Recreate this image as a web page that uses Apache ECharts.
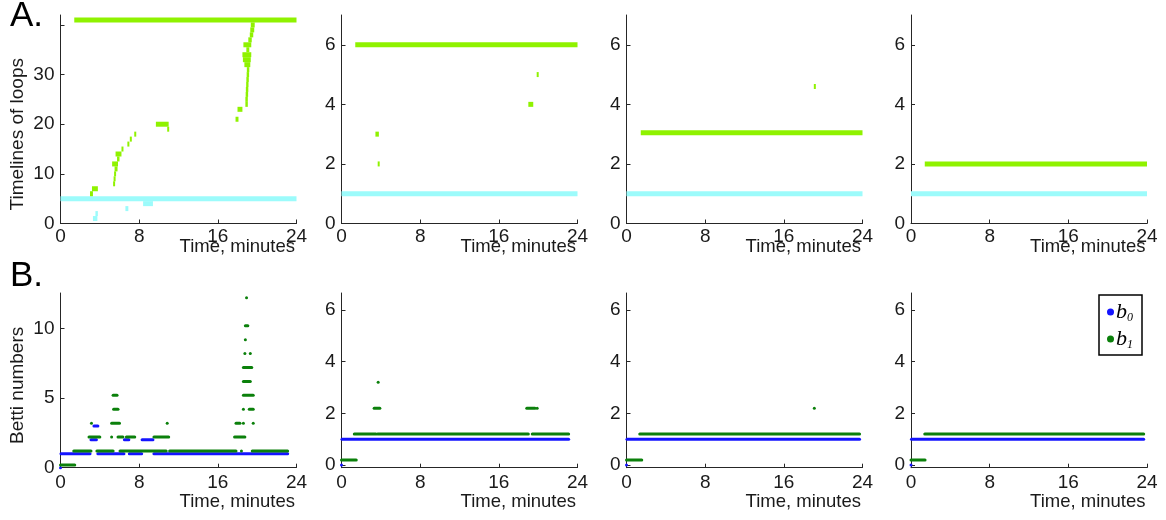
<!DOCTYPE html>
<html>
<head>
<meta charset="utf-8">
<script src="https://cdn.jsdelivr.net/npm/echarts@6/dist/echarts.min.js"></script>
<style>
  html, body { margin: 0; padding: 0; background: #fff; }
  #chart { width: 1166px; height: 520px; }
</style>
</head>
<body>
<div id="chart"></div>
<script>
// Time axis (minutes) shared by every panel
const timeTicks = [0, 8, 16, 24];

// Loop timelines: each entry is [start minute, end minute, loop index]
const loopsGreen1 = [
  [1.4, 24, 41],
  [19.35, 19.75, 40], [19.3, 19.7, 39], [19.25, 19.6, 38], [19.1, 19.45, 37],
  [18.6, 19.4, 36], [18.9, 19.2, 35], [18.5, 19.4, 34], [18.55, 19.35, 33], [18.7, 19.3, 32],
  [18.95, 19.2, 31], [18.93, 19.18, 30], [18.9, 19.15, 29], [18.88, 19.12, 28],
  [18.85, 19.1, 27], [18.83, 19.08, 26], [18.8, 19.05, 25], [18.8, 19.05, 24],
  [18.0, 18.5, 23], [17.8, 18.1, 21],
  [9.7, 11.0, 20], [10.85, 10.95, 19],
  [7.5, 7.7, 18], [7.05, 7.25, 17], [6.8, 6.95, 16], [6.2, 6.35, 15],
  [5.6, 6.2, 14], [5.75, 6.0, 13], [5.25, 5.85, 12], [5.5, 5.8, 11],
  [5.45, 5.6, 10], [5.4, 5.55, 9], [5.35, 5.5, 8],
  [3.2, 3.8, 7], [3.0, 3.3, 6]
];
const loopsCyan1 = [
  [0, 24, 5], [8.4, 9.4, 4], [6.6, 6.9, 3], [3.55, 3.8, 2], [3.3, 3.75, 1]
];
const loopsGreen2 = [
  [1.4, 24, 6], [19.85, 20.05, 5], [19.0, 19.5, 4], [3.45, 3.8, 3], [3.68, 3.85, 2]
];
const loopsCyan2 = [[0, 24, 1]];
const loopsGreen3 = [[1.45, 24, 3.05], [19.05, 19.25, 4.6]];
const loopsCyan3 = [[0, 24, 1]];
const loopsGreen4 = [[1.4, 24, 2]];
const loopsCyan4 = [[0, 24, 1]];

// Betti numbers over time: [start minute, end minute, value]
const betti0_1 = [
  [0, 0, 0], [0.05, 3.0, 1], [3.8, 6.45, 1], [7.0, 8.25, 1], [9.5, 23.1, 1],
  [3.1, 3.65, 2], [6.5, 6.95, 2], [8.3, 9.4, 2], [3.4, 3.8, 3]
];
const betti1_1 = [
  [0, 1.45, 0],
  [1.35, 3.1, 1], [3.7, 5.35, 1], [6.05, 10.75, 1], [11.1, 17.85, 1], [18.4, 18.4, 1], [19.5, 23.1, 1],
  [2.9, 4.0, 2], [5.2, 5.2, 2], [5.85, 6.35, 2], [6.7, 7.55, 2], [9.5, 11.0, 2], [17.7, 18.75, 2],
  [3.15, 3.15, 3], [5.2, 6.0, 3], [10.85, 10.85, 3], [17.85, 18.25, 3], [18.6, 18.6, 3], [19.6, 19.6, 3],
  [5.4, 5.85, 4], [18.6, 18.6, 4], [19.2, 19.6, 4],
  [5.35, 5.75, 5], [18.6, 19.6, 5],
  [18.6, 19.3, 6],
  [18.6, 19.45, 7],
  [18.75, 18.75, 8], [19.3, 19.3, 8],
  [18.8, 18.8, 9],
  [18.8, 19.05, 10],
  [18.92, 18.92, 12]
];
const betti0_2 = [[0, 0, 0], [0.05, 23.1, 1]];
const betti1_2 = [
  [0, 1.5, 0], [1.3, 3.5, 1], [3.67, 19.0, 1], [19.4, 23.1, 1],
  [3.32, 3.9, 2], [18.84, 19.68, 2], [19.9, 19.9, 2], [3.73, 3.73, 3]
];
const betti0_3 = [[0, 0, 0], [0.05, 23.7, 1]];
const betti1_3 = [[0, 1.55, 0], [1.35, 23.7, 1], [19.1, 19.1, 2]];
const betti0_4 = [[0, 0, 0], [0.05, 23.66, 1]];
const betti1_4 = [[0, 1.43, 0], [1.4, 23.66, 1]];

// Y ranges and labelled ticks per panel
const loopAxisMax = [42, 7, 7, 7];
const loopTicks1 = [0, 10, 20, 30];
const loopTickMarks1 = [0, 10, 20, 30, 40];
const loopTicksOther = [0, 2, 4, 6];
const bettiAxisMin = [0, -0.1, -0.1, -0.1];
const bettiAxisMax = [12.55, 6.65, 6.65, 6.65];
const bettiTicks1 = [0, 5, 10];
const bettiTicksOther = [0, 2, 4, 6];

const GREEN_LOOP = '#8ff200';
const CYAN_LOOP = '#9cfbfb';
const BLUE_B0 = '#1414ff';
const GREEN_B1 = '#0b800b';
const FONT = '"Liberation Sans", Arial, sans-serif';
const INK = '#1a1a1a';

const colLeft = [60.5, 341.5, 626.5, 911];
const colWidth = 236;
const rowTop = [15, 293];
const rowHeight = [208.5, 174.7];

// Flat bar from start to end at a given level
function barItem(thick) {
  return function (params, api) {
    const lv = api.value(2);
    const a = api.coord([api.value(0), lv]);
    const b = api.coord([api.value(1), lv]);
    return {
      type: 'rect',
      shape: { x: a[0], y: a[1] - thick / 2, width: Math.max(b[0] - a[0], 2), height: thick },
      style: { fill: api.visual('color') }
    };
  };
}

// Run of dense dots: a rounded stroke, a single dot when start equals end
function dotRunItem(thick, lift) {
  return function (params, api) {
    const lv = api.value(2) + lift;
    const a = api.coord([api.value(0), lv]);
    const b = api.coord([api.value(1), lv]);
    return {
      type: 'rect',
      shape: { x: a[0] - thick / 2, y: a[1] - thick / 2, width: b[0] - a[0] + thick, height: thick, r: thick / 2 },
      style: { fill: api.visual('color') }
    };
  };
}

const grids = [], xAxes = [], yAxes = [], series = [];
const loopGreen = [loopsGreen1, loopsGreen2, loopsGreen3, loopsGreen4];
const loopCyan = [loopsCyan1, loopsCyan2, loopsCyan3, loopsCyan4];
const b0 = [betti0_1, betti0_2, betti0_3, betti0_4];
const b1 = [betti1_1, betti1_2, betti1_3, betti1_4];

function makeX(gi, row) {
  return {
    type: 'value', gridIndex: gi, min: 0, max: 24, interval: 8,
    name: 'Time, minutes', nameLocation: 'end', nameGap: -1.5, nameMoveOverlap: false,
    nameTextStyle: {
      fontFamily: FONT, fontSize: 18.5, color: INK, align: 'right', verticalAlign: 'top',
      padding: [row === 0 ? 14 : 25, 0, 0, 0]
    },
    axisLine: { show: true, onZero: false, lineStyle: { color: '#262626', width: 1 } },
    axisTick: { show: true, inside: true, length: 4, customValues: timeTicks, lineStyle: { color: '#262626' } },
    axisLabel: { customValues: timeTicks, fontFamily: FONT, fontSize: 19, color: INK, margin: row === 0 ? 4 : 6 },
    splitLine: { show: false }
  };
}

function makeY(gi, min, max, labels, marks, name, shift) {
  const ax = {
    type: 'value', gridIndex: gi, min: min, max: max,
    axisLine: { show: true, onZero: false, lineStyle: { color: '#262626', width: 1 } },
    axisTick: { show: true, inside: true, length: 4, customValues: marks, lineStyle: { color: '#262626' } },
    axisLabel: { customValues: labels, fontFamily: FONT, fontSize: 19, color: INK, margin: 6 },
    splitLine: { show: false }
  };
  if (name) {
    ax.name = name;
    ax.nameLocation = 'middle';
    ax.nameGap = 33;
    ax.nameMoveOverlap = false;
    ax.nameTextStyle = { fontFamily: FONT, fontSize: 19, color: INK, padding: [0, shift, 0, 0] };
  }
  return ax;
}

for (let c = 0; c < 4; c++) {
  // Row A: loop timelines
  let gi = grids.length;
  grids.push({ left: colLeft[c], top: rowTop[0], width: colWidth, height: rowHeight[0], outerBoundsMode: 'none', containLabel: false });
  xAxes.push(makeX(gi, 0));
  yAxes.push(makeY(gi, 0, loopAxisMax[c],
    c === 0 ? loopTicks1 : loopTicksOther,
    c === 0 ? loopTickMarks1 : loopTicksOther,
    c === 0 ? 'Timelines of loops' : null, 30));
  series.push({
    type: 'custom', name: 'loops-cyan', xAxisIndex: gi, yAxisIndex: gi,
    renderItem: barItem(5), itemStyle: { color: CYAN_LOOP },
    encode: { x: [0, 1], y: 2 }, data: loopCyan[c], silent: true
  });
  series.push({
    type: 'custom', name: 'loops-green', xAxisIndex: gi, yAxisIndex: gi,
    renderItem: barItem(5), itemStyle: { color: GREEN_LOOP },
    encode: { x: [0, 1], y: 2 }, data: loopGreen[c], silent: true
  });

  // Row B: Betti numbers
  gi = grids.length;
  grids.push({ left: colLeft[c], top: rowTop[1], width: colWidth, height: rowHeight[1], outerBoundsMode: 'none', containLabel: false });
  xAxes.push(makeX(gi, 1));
  const bt = c === 0 ? bettiTicks1 : bettiTicksOther;
  yAxes.push(makeY(gi, bettiAxisMin[c], bettiAxisMax[c], bt, bt, c === 0 ? 'Betti numbers' : null, 10));
  series.push({
    type: 'custom', name: 'b0', xAxisIndex: gi, yAxisIndex: gi,
    renderItem: dotRunItem(3, 0), itemStyle: { color: BLUE_B0 },
    encode: { x: [0, 1], y: 2 }, data: b0[c]
  });
  series.push({
    type: 'custom', name: 'b1', xAxisIndex: gi, yAxisIndex: gi,
    renderItem: dotRunItem(3, 0.2), itemStyle: { color: GREEN_B1 },
    encode: { x: [0, 1], y: 2 }, data: b1[c]
  });
}

const chart = echarts.init(document.getElementById('chart'), null, { renderer: 'canvas' });
chart.setOption({
  animation: false,
  backgroundColor: '#fff',
  grid: grids,
  xAxis: xAxes,
  yAxis: yAxes,
  series: series,
  legend: {
    data: ['b0', 'b1'],
    orient: 'vertical', left: 1099, top: 295,
    padding: [6, 9, 4, 8], itemGap: 4,
    icon: 'circle', itemWidth: 7, itemHeight: 7,
    borderColor: '#000', borderWidth: 1.5, backgroundColor: '#fff',
    selectedMode: false,
    formatter: function (n) { return '{b|b}{s|' + n.slice(1) + '}'; },
    textStyle: {
      padding: [0, 0, 0, -3],
      rich: {
        b: { fontFamily: '"Liberation Serif", "Times New Roman", serif', fontStyle: 'italic', fontSize: 22, lineHeight: 24, verticalAlign: 'middle', color: '#000' },
        s: { fontFamily: '"Liberation Serif", "Times New Roman", serif', fontStyle: 'italic', fontSize: 12, lineHeight: 12, verticalAlign: 'bottom', color: '#000' }
      }
    }
  },
  graphic: [
    { type: 'text', style: { x: 10, y: 16, text: 'A.', font: '35px ' + FONT, fill: '#000', verticalAlign: 'middle' } },
    { type: 'text', style: { x: 10, y: 276, text: 'B.', font: '35px ' + FONT, fill: '#000', verticalAlign: 'middle' } }
  ]
});
</script>
</body>
</html>
